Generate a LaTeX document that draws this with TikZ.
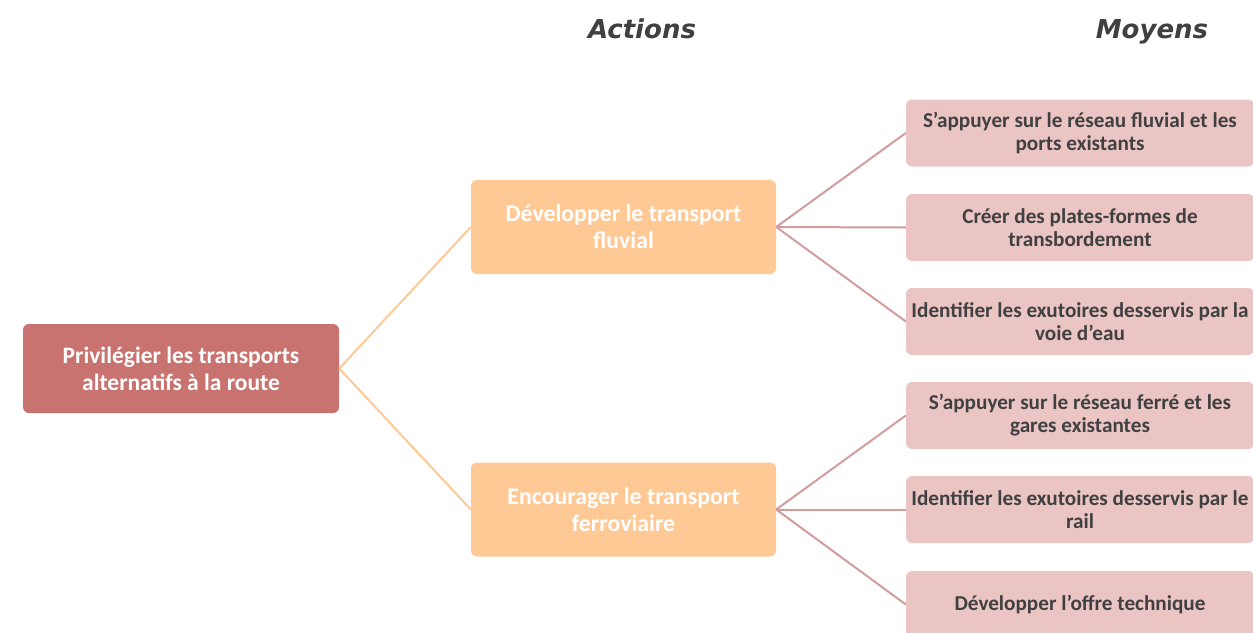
\documentclass[tikz,border=0pt]{standalone}
\usepackage{fontspec}
\setmainfont{Carlito}
\newfontfamily\titlefont{DejaVu Sans}
\definecolor{rootc}{HTML}{C87370}
\definecolor{actc}{HTML}{FFC995}
\definecolor{meanc}{HTML}{EBC5C4}
\definecolor{meanline}{HTML}{D39C9D}
\definecolor{txtc}{HTML}{404040}
\tikzset{
  rootbox/.style={rounded corners=6pt, fill=rootc, draw=none, text=white, font=\fontsize{23.5}{27}\selectfont\bfseries, align=center, minimum width=316pt, minimum height=89pt, inner sep=0pt},
  actbox/.style={rounded corners=6pt, fill=actc, draw=none, text=white, font=\fontsize{23.8}{27}\selectfont\bfseries, align=center, minimum width=305pt, minimum height=94pt, inner sep=0pt},
  meanbox/.style={rounded corners=6pt, fill=meanc, draw=none, text=txtc, font=\fontsize{21.2}{23}\selectfont\bfseries, align=center, minimum width=348pt, minimum height=67pt, inner sep=0pt},
  title/.style={text=txtc, anchor=base, font=\titlefont\fontsize{26}{30}\selectfont\bfseries\itshape},
  actline/.style={draw=actc, line width=2pt},
  meanline/.style={draw=meanline, line width=2pt},
}
\begin{document}
\begin{tikzpicture}[x=1pt,y=-1pt]
\useasboundingbox (0,0) rectangle (1253,632);
\clip (0,0) rectangle (1253,632);
\node[title] (tA) at (642,38) {Actions};
\node[title] (tM) at (1152,38) {Moyens};
\node[rootbox] (R) at (181,368.5) {Privilégier les transports\\alternatifs à la route};
\node[actbox] (A1) at (623.5,227) {Développer le transport\\fluvial};
\node[actbox] (A2) at (623.5,509.5) {Encourager le transport\\ferroviaire};
\node[meanbox] (M1) at (1080,133) {S’appuyer sur le réseau fluvial et les\\ports existants};
\node[meanbox] (M2) at (1080,227.5) {Créer des plates-formes de\\transbordement};
\node[meanbox] (M3) at (1080,321.5) {Identifier les exutoires desservis par la\\voie d’eau};
\node[meanbox] (M4) at (1080,415.5) {S’appuyer sur le réseau ferré et les\\gares existantes};
\node[meanbox] (M5) at (1080,509.5) {Identifier les exutoires desservis par le\\rail};
\node[meanbox] (M6) at (1080,604.5) {Développer l’offre technique};
\draw[actline] (R.east) -- (A1.west);
\draw[actline] (R.east) -- (A2.west);
\draw[meanline] (A1.east) -- (M1.west);
\draw[meanline] (A1.east) -- (M2.west);
\draw[meanline] (A1.east) -- (M3.west);
\draw[meanline] (A2.east) -- (M4.west);
\draw[meanline] (A2.east) -- (M5.west);
\draw[meanline] (A2.east) -- (M6.west);
\end{tikzpicture}
\end{document}
